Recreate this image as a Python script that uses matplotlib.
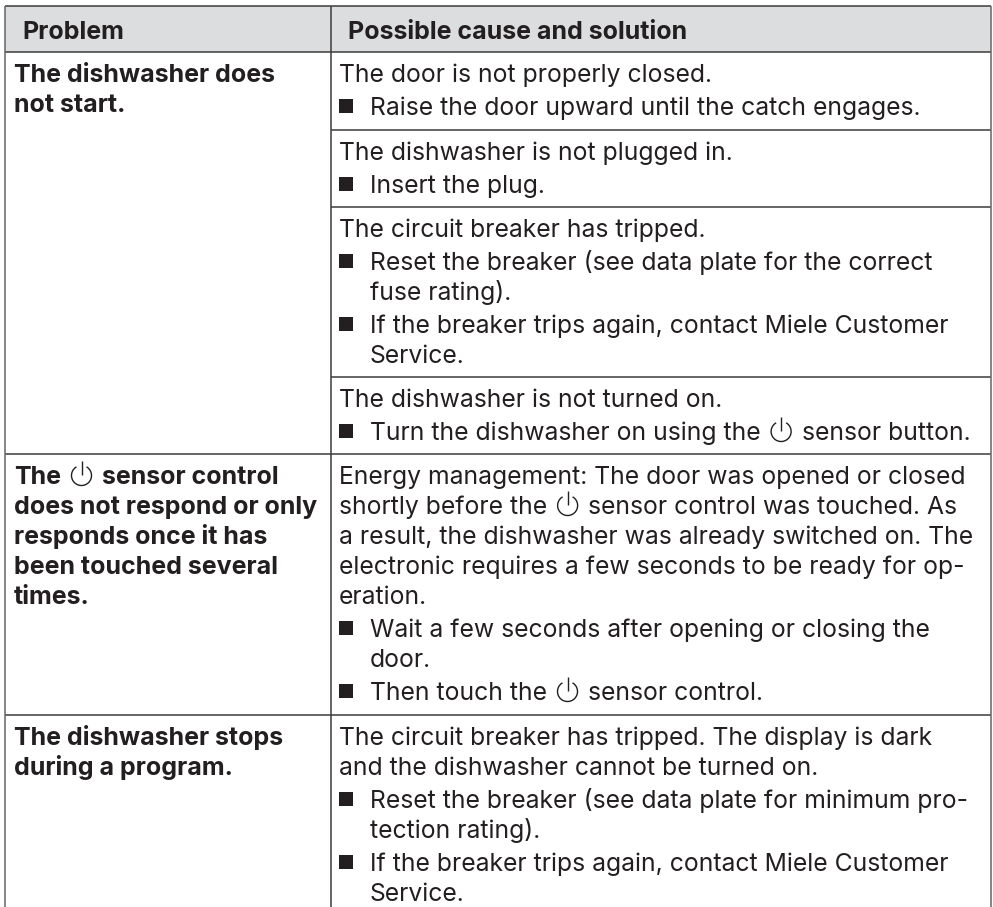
import matplotlib
matplotlib.use("Agg")
import matplotlib.pyplot as plt
from matplotlib.patches import Rectangle, Arc

W, H = 993, 907
FONT = ['Inter', 'DejaVu Sans']
HEAD_BG = '#dcddde'
INK = '#231f20'
RULE = '#3c3c3c'
POWER = '⏻'

headers = ["Problem", "Possible cause and solution"]
problems = [
    ["The dishwasher does", "not start."],
    [f"The {POWER} sensor control", "does not respond or only", "responds once it has", "been touched several", "times."],
    ["The dishwasher stops", "during a program."],
]
# Each paragraph: (is_bullet, lines)
causes = [
    [(False, ["The door is not properly closed."]),
     (True, ["Raise the door upward until the catch engages."])],
    [(False, ["The dishwasher is not plugged in."]),
     (True, ["Insert the plug."])],
    [(False, ["The circuit breaker has tripped."]),
     (True, ["Reset the breaker (see data plate for the correct", "fuse rating)."]),
     (True, ["If the breaker trips again, contact Miele Customer", "Service."])],
    [(False, ["The dishwasher is not turned on."]),
     (True, [f"Turn the dishwasher on using the {POWER} sensor button."])],
    [(False, ["Energy management: The door was opened or closed",
              f"shortly before the {POWER} sensor control was touched. As",
              "a result, the dishwasher was already switched on. The",
              "electronic requires a few seconds to be ready for op-",
              "eration."]),
     (True, ["Wait a few seconds after opening or closing the", "door."]),
     (True, [f"Then touch the {POWER} sensor control."])],
    [(False, ["The circuit breaker has tripped. The display is dark",
              "and the dishwasher cannot be turned on."]),
     (True, ["Reset the breaker (see data plate for minimum pro-", "tection rating)."]),
     (True, ["If the breaker trips again, contact Miele Customer", "Service."])],
]

# Layout in pixels
LEFT, RIGHT, TOP, HEAD_BOTTOM, COL = 5, 991, 6, 52, 331
PROBLEM_TOPS = [52, 454, 715]
CAUSE_TOPS = [52, 130, 207, 377, 454, 715]
FIRST_BASELINE = 30
LINE = 30
PARA = 33
FS = 17.8
FS_B = 18.0

fig = plt.figure(figsize=(W / 100, H / 100), dpi=100)
ax = fig.add_axes([0, 0, 1, 1])
ax.set_xlim(0, W)
ax.set_ylim(H, 0)
ax.axis('off')
renderer = fig.canvas.get_renderer()


def power_icon(cx, base):
    cy = base - 8.5
    r = 10
    ax.add_patch(Arc((cx, cy), 2 * r, 2 * r, theta1=-60, theta2=240, angle=0,
                     color=INK, lw=1.0))
    ax.plot([cx, cx], [cy - 14.5, cy - 1], color=INK, lw=1.0, solid_capstyle='butt')


def draw_line(x, base, s, weight):
    parts = s.split(POWER)
    for i, part in enumerate(parts):
        part = part.strip()
        t = ax.text(x, base, part, fontsize=FS_B if weight == 'bold' else FS, fontweight=weight,
                    family=FONT, color=INK, va='baseline', ha='left')
        if i < len(parts) - 1:
            x = t.get_window_extent(renderer).x1
            power_icon(x + 20.5, base)
            x += 41


ax.add_patch(Rectangle((LEFT, TOP), RIGHT - LEFT, HEAD_BOTTOM - TOP, fc=HEAD_BG, ec='none', zorder=0))
for y in [TOP, HEAD_BOTTOM, 454, 715]:
    ax.plot([LEFT, RIGHT], [y, y], color=RULE, lw=1.1, solid_capstyle='butt')
for y in [130, 207, 377]:
    ax.plot([COL, RIGHT], [y, y], color=RULE, lw=1.1, solid_capstyle='butt')
for x, c in [(LEFT, '#666666'), (COL, RULE), (RIGHT, '#666666')]:
    ax.plot([x, x], [TOP, H], color=c, lw=1.1, solid_capstyle='butt')

for x, s in zip((22, 348), headers):
    draw_line(x, 39, s, 'bold')

for lines, top in zip(problems, PROBLEM_TOPS):
    for i, s in enumerate(lines):
        draw_line(14, top + FIRST_BASELINE + i * LINE, s, 'bold')

for block, top in zip(causes, CAUSE_TOPS):
    base = top + FIRST_BASELINE
    for p, (is_bullet, lines) in enumerate(block):
        if p:
            base += PARA
        for i, s in enumerate(lines):
            if i:
                base += LINE
            if is_bullet:
                if i == 0:
                    ax.add_patch(Rectangle((339, base - 16), 14, 13.5, fc=INK, ec='none'))
                draw_line(370, base, s, 'normal')
            else:
                draw_line(339, base, s, 'normal')

fig.savefig('out.png', dpi=100)
